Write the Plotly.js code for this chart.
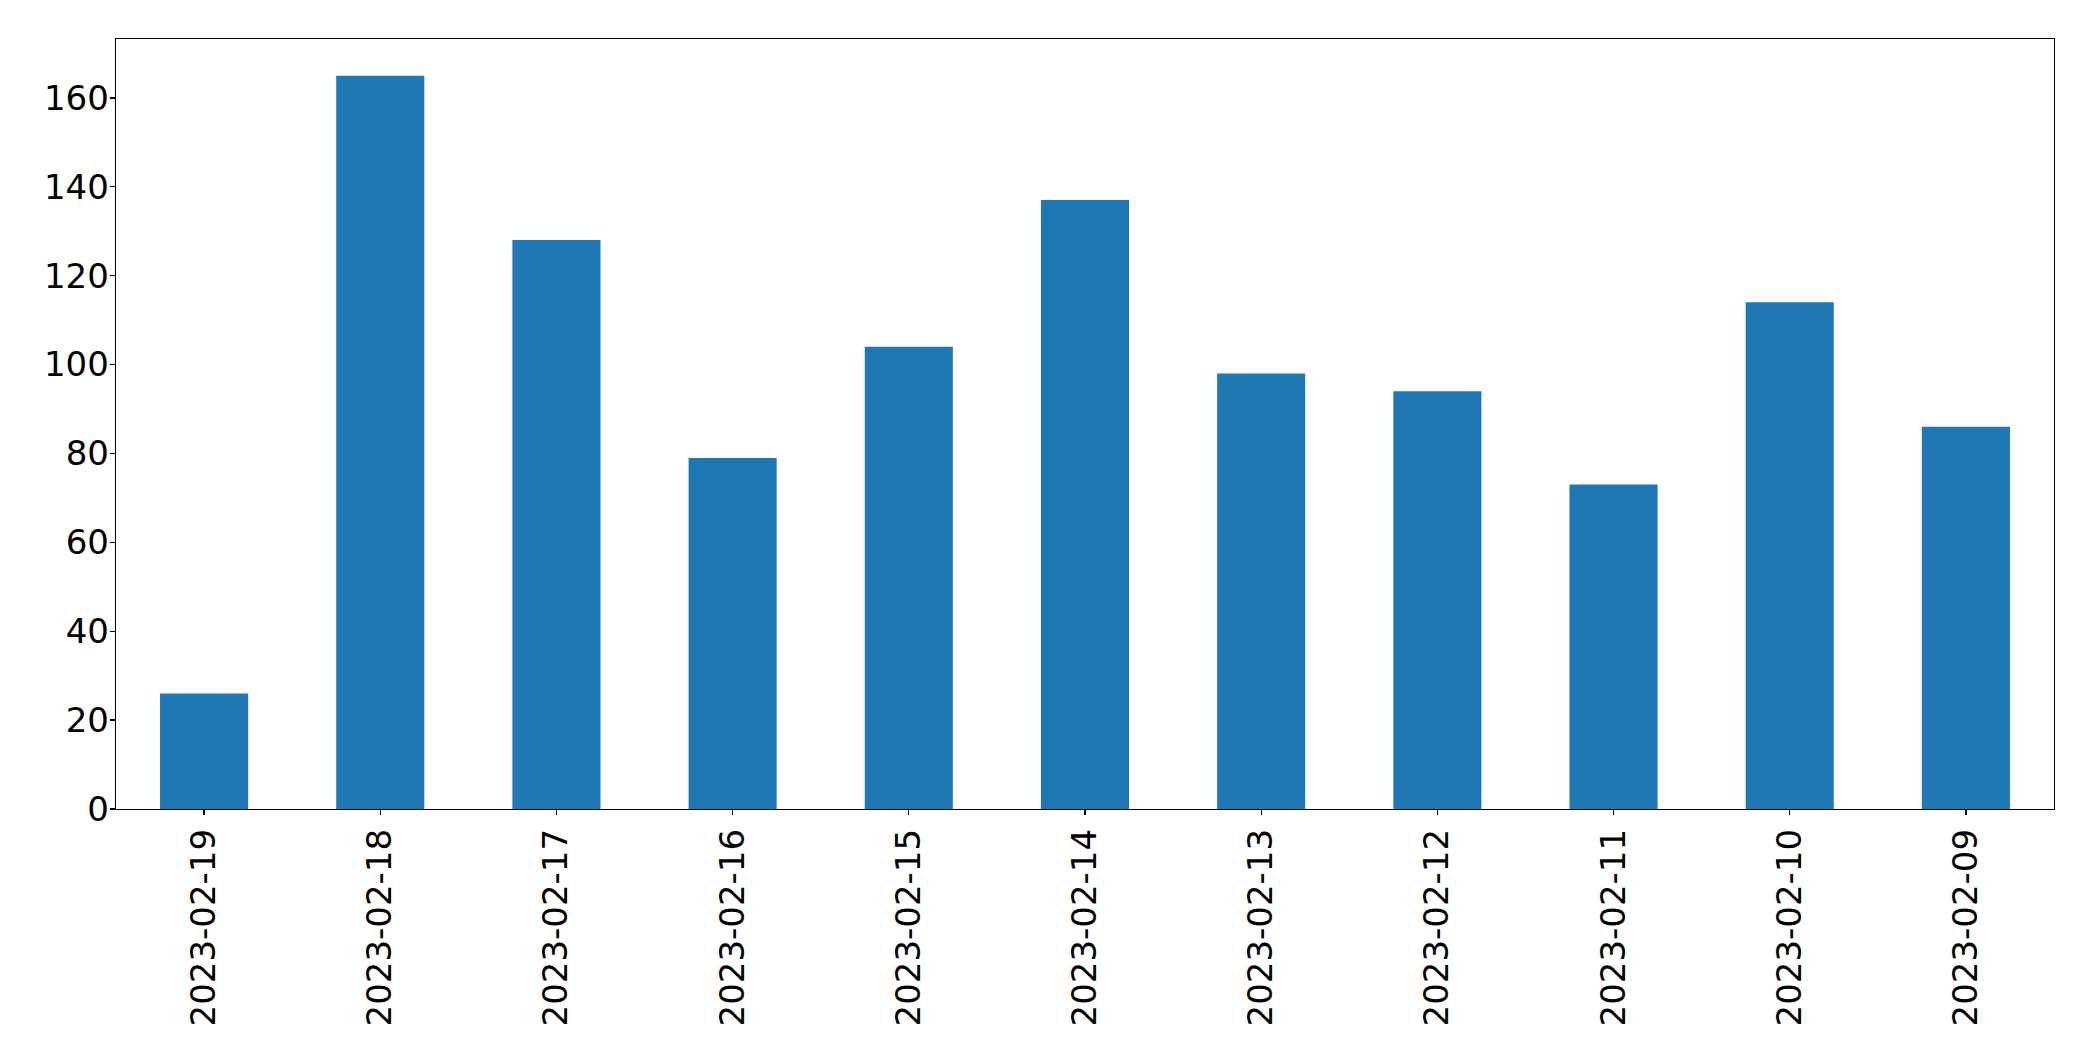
<!DOCTYPE html>
<html>
<head>
<meta charset="utf-8">
<script src="https://cdn.plot.ly/plotly-3.0.1.min.js"></script>
<style>html,body{margin:0;padding:0;background:#fff;}#chart{width:2093px;height:1061px;}</style>
</head>
<body>
<div id="chart"></div>
<script>
const dates = ["2023-02-19","2023-02-18","2023-02-17","2023-02-16","2023-02-15","2023-02-14","2023-02-13","2023-02-12","2023-02-11","2023-02-10","2023-02-09"];
const counts = [26, 165, 128, 79, 104, 137, 98, 94, 73, 114, 86];
const yTicks = [0, 20, 40, 60, 80, 100, 120, 140, 160];

const trace = {
  type: 'bar',
  x: dates,
  y: counts,
  width: 0.5,
  marker: {color: '#1f77b4', line: {width: 0}},
  hoverinfo: 'x+y'
};

const layout = {
  width: 2093,
  height: 1061,
  margin: {l: 116, r: 39, t: 39, b: 252, pad: 0},
  paper_bgcolor: '#ffffff',
  plot_bgcolor: '#ffffff',
  showlegend: false,
  font: {family: 'DejaVu Sans', size: 34, color: '#000000'},
  xaxis: {
    type: 'category',
    categoryorder: 'array',
    categoryarray: dates,
    range: [-0.5, dates.length - 0.5],
    tickangle: -90,
    ticks: 'outside',
    ticklen: 5,
    tickwidth: 1.3,
    tickcolor: '#000',
    ticklabelstandoff: 0,
    showline: true,
    linecolor: '#000',
    linewidth: 1.3,
    mirror: true,
    showgrid: false,
    zeroline: false,
    tickfont: {family: 'DejaVu Sans', size: 34, color: '#000'}
  },
  yaxis: {
    range: [0, 173.25],
    tickmode: 'array',
    tickvals: yTicks,
    ticktext: yTicks.map(String),
    ticks: 'outside',
    ticklen: 5,
    tickwidth: 1.3,
    tickcolor: '#000',
    ticklabelstandoff: -6,
    showline: true,
    linecolor: '#000',
    linewidth: 1.3,
    mirror: true,
    showgrid: false,
    zeroline: false,
    tickfont: {family: 'DejaVu Sans', size: 34, color: '#000'}
  }
};

Plotly.newPlot('chart', [trace], layout, {displayModeBar: false, staticPlot: true});
</script>
</body>
</html>
